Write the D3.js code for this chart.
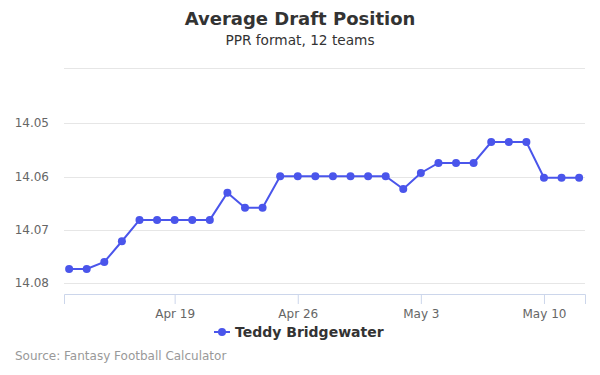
<!DOCTYPE html>
<html>
<head>
<meta charset="utf-8">
<script src="https://cdn.jsdelivr.net/npm/d3@7"></script>
<style>
  body { margin: 0; background: #fff; }
  svg { font-family: "DejaVu Sans", sans-serif; display: block; }
</style>
</head>
<body>
<div id="chart"></div>
<script>
// Chart data (one point per day, Apr 13 -> May 12)
const startDate = "2020-04-13";
const adpValues = [
    14.0773, 14.0773, 14.0760, 14.0721, 14.0681, 14.0681, 14.0681, 14.0681, 14.0681, 14.0630,
    14.0658, 14.0658, 14.0599, 14.0599, 14.0599, 14.0599, 14.0599, 14.0599, 14.0599, 14.0623,
    14.0593, 14.0574, 14.0574, 14.0574, 14.0535, 14.0535, 14.0535, 14.0602, 14.0602, 14.0602
];
const yTicks = [14.05, 14.06, 14.07, 14.08];
const xTickDates = ["2020-04-19", "2020-04-26", "2020-05-03", "2020-05-10"];
const seriesName = "Teddy Bridgewater";

const width = 600;
const height = 375;
const margin = { top: 68, right: 15, bottom: 81, left: 64 };
const color = "#4a55eb";

const parse = d3.utcParse("%Y-%m-%d");
const t0 = parse(startDate);
const data = adpValues.map((v, i) => ({ date: d3.utcDay.offset(t0, i), value: v }));

const svg = d3.select("#chart").append("svg")
    .attr("width", width)
    .attr("height", height);

// x scale: Apr 13 sits a few px inside the left edge
const x = d3.scaleUtc()
    .domain([d3.utcHour.offset(t0, -7), d3.utcHour.offset(d3.utcDay.offset(t0, 29), 8)])
    .range([margin.left, width - margin.right]);

// reversed y axis (lower pick number on top)
const y = d3.scaleLinear()
    .domain([14.0396, 14.0820])
    .range([margin.top, height - margin.bottom]);

// gridlines
svg.append("line")
    .attr("x1", margin.left).attr("x2", width - margin.right)
    .attr("y1", margin.top + 0.5).attr("y2", margin.top + 0.5)
    .attr("stroke", "#e6e6e6");

svg.append("g")
    .selectAll("line")
    .data(yTicks)
    .enter().append("line")
    .attr("x1", margin.left).attr("x2", width - margin.right)
    .attr("y1", d => Math.round(y(d)) + 0.5)
    .attr("y2", d => Math.round(y(d)) + 0.5)
    .attr("stroke", "#e6e6e6");

// y labels
svg.append("g")
    .selectAll("text")
    .data(yTicks)
    .enter().append("text")
    .attr("x", 49)
    .attr("y", d => y(d) + 4)
    .attr("text-anchor", "end")
    .attr("font-size", 12)
    .attr("fill", "#666")
    .text(d => d3.format(".2f")(d));

// x axis
const xAxis = d3.axisBottom(x)
    .tickValues(xTickDates.map(parse))
    .tickFormat(d3.utcFormat("%b %-d"))
    .tickSize(10)
    .tickPadding(5);

const gx = svg.append("g")
    .attr("transform", `translate(0,${height - margin.bottom})`)
    .call(xAxis);
gx.select(".domain").attr("stroke", "#ccd6eb");
gx.selectAll(".tick line").attr("stroke", "#ccd6eb");
gx.selectAll(".tick text")
    .attr("font-size", 12)
    .attr("fill", "#666")
    .attr("font-family", "DejaVu Sans, sans-serif");

// line + markers
const line = d3.line()
    .x(d => x(d.date))
    .y(d => y(d.value));

svg.append("path")
    .datum(data)
    .attr("fill", "none")
    .attr("stroke", color)
    .attr("stroke-width", 2)
    .attr("d", line);

svg.append("g")
    .selectAll("circle")
    .data(data)
    .enter().append("circle")
    .attr("cx", d => x(d.date))
    .attr("cy", d => y(d.value))
    .attr("r", 4)
    .attr("fill", color);

// titles
svg.append("text")
    .attr("x", width / 2).attr("y", 25)
    .attr("text-anchor", "middle")
    .attr("font-size", 18)
    .attr("font-weight", "bold")
    .attr("fill", "#333")
    .text("Average Draft Position");

svg.append("text")
    .attr("x", width / 2).attr("y", 45)
    .attr("text-anchor", "middle")
    .attr("font-size", 13.7)
    .attr("fill", "#333")
    .text("PPR format, 12 teams");

// legend
const legend = svg.append("g").attr("transform", "translate(214,332)");
legend.append("line")
    .attr("x1", 0).attr("x2", 16)
    .attr("stroke", color).attr("stroke-width", 2);
legend.append("circle")
    .attr("cx", 8).attr("r", 4).attr("fill", color);
legend.append("text")
    .attr("x", 21).attr("y", 5)
    .attr("font-size", 14)
    .attr("font-weight", "bold")
    .attr("fill", "#333")
    .text(seriesName);

// credits
svg.append("text")
    .attr("x", 15).attr("y", 360)
    .attr("font-size", 12)
    .attr("fill", "#999")
    .text("Source: Fantasy Football Calculator");
</script>
</body>
</html>
